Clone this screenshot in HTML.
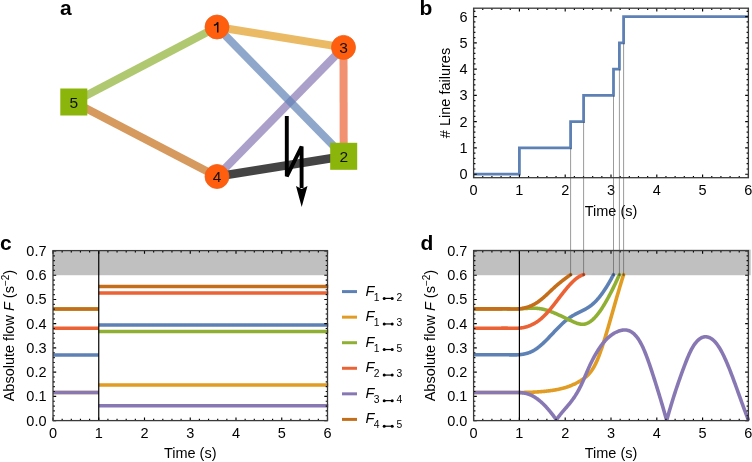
<!DOCTYPE html><html><head><meta charset="utf-8"><style>html,body{margin:0;padding:0;background:#fff;}svg{display:block;}</style></head><body>
<svg width="752" height="462" viewBox="0 0 752 462" font-family="Liberation Sans, sans-serif">
<rect width="752" height="462" fill="#fff"/>
<g opacity="0.999">
<g>
<line x1="217" y1="27" x2="73.8" y2="102" stroke="#8FB032" stroke-width="8" stroke-opacity="0.7"/>
<line x1="217" y1="176.5" x2="73.8" y2="102" stroke="#C56E1A" stroke-width="8" stroke-opacity="0.7"/>
<line x1="217" y1="27" x2="343.5" y2="47.4" stroke="#E19C24" stroke-width="8" stroke-opacity="0.7"/>
<line x1="343.5" y1="47.4" x2="217" y2="176.5" stroke="#8778B3" stroke-width="8" stroke-opacity="0.7"/>
<line x1="217" y1="27" x2="343.7" y2="156.3" stroke="#5E81B5" stroke-width="8" stroke-opacity="0.7"/>
<line x1="343.5" y1="47.4" x2="343.7" y2="156.3" stroke="#EB6235" stroke-width="8" stroke-opacity="0.7"/>
<line x1="217" y1="176.5" x2="343.7" y2="156.3" stroke="#444" stroke-width="8.5" stroke-opacity="1"/>
<circle cx="217" cy="27" r="12" fill="#FF5E0E" stroke="#F06018" stroke-width="0.8"/>
<path d="M217.75,32.6V22.3M217.75,22.1C217.3,24.1 215.9,25 213.9,25.2" stroke="#111" stroke-width="1.5" fill="none"/>
<circle cx="343.5" cy="47.4" r="12" fill="#FF5E0E" stroke="#F06018" stroke-width="0.8"/>
<text x="343.5" y="52.9" font-size="15.5" text-anchor="middle" fill="#111">3</text>
<circle cx="217" cy="176.5" r="12" fill="#FF5E0E" stroke="#F06018" stroke-width="0.8"/>
<text x="217" y="182" font-size="15.5" text-anchor="middle" fill="#111">4</text>
<rect x="60.3" y="88.5" width="27" height="27" fill="#8BB50A"/>
<text x="73.8" y="107.5" font-size="15.5" text-anchor="middle" fill="#111">5</text>
<rect x="330.2" y="142.8" width="27" height="27" fill="#8BB50A"/>
<text x="343.7" y="161.8" font-size="15.5" text-anchor="middle" fill="#111">2</text>
<path d="M286.8,116 L286.8,176.3 L301.6,146.6 L301.6,188" stroke="#000" stroke-width="3.9" fill="none" stroke-linejoin="miter" stroke-miterlimit="3"/>
<path d="M296,186 L301.7,189 L307.5,186 L301.7,207 Z" fill="#000"/>
</g>
<text x="60" y="15" font-size="21" font-weight="bold">a</text>
<text x="419.6" y="14.7" font-size="21" font-weight="bold">b</text>
<path d="M473.6,174.2H519.4V147.93H570.6V121.66H583.6V95.39H613.5V69.12H619.4V42.85H623.6V16.58H748.4" stroke="#5E81B5" stroke-width="2.8" fill="none"/>
<path d="M473.6,177.7v-3.2M473.6,8.2v3.2M519.4,177.7v-3.2M519.4,8.2v3.2M565.2,177.7v-3.2M565.2,8.2v3.2M611,177.7v-3.2M611,8.2v3.2M656.8,177.7v-3.2M656.8,8.2v3.2M702.6,177.7v-3.2M702.6,8.2v3.2M748.4,177.7v-3.2M748.4,8.2v3.2M482.76,177.7v-1.8M482.76,8.2v1.8M491.92,177.7v-1.8M491.92,8.2v1.8M501.08,177.7v-1.8M501.08,8.2v1.8M510.24,177.7v-1.8M510.24,8.2v1.8M528.56,177.7v-1.8M528.56,8.2v1.8M537.72,177.7v-1.8M537.72,8.2v1.8M546.88,177.7v-1.8M546.88,8.2v1.8M556.04,177.7v-1.8M556.04,8.2v1.8M574.36,177.7v-1.8M574.36,8.2v1.8M583.52,177.7v-1.8M583.52,8.2v1.8M592.68,177.7v-1.8M592.68,8.2v1.8M601.84,177.7v-1.8M601.84,8.2v1.8M620.16,177.7v-1.8M620.16,8.2v1.8M629.32,177.7v-1.8M629.32,8.2v1.8M638.48,177.7v-1.8M638.48,8.2v1.8M647.64,177.7v-1.8M647.64,8.2v1.8M665.96,177.7v-1.8M665.96,8.2v1.8M675.12,177.7v-1.8M675.12,8.2v1.8M684.28,177.7v-1.8M684.28,8.2v1.8M693.44,177.7v-1.8M693.44,8.2v1.8M711.76,177.7v-1.8M711.76,8.2v1.8M720.92,177.7v-1.8M720.92,8.2v1.8M730.08,177.7v-1.8M730.08,8.2v1.8M739.24,177.7v-1.8M739.24,8.2v1.8M473.6,174.2h3.2M748.4,174.2h-3.2M473.6,147.93h3.2M748.4,147.93h-3.2M473.6,121.66h3.2M748.4,121.66h-3.2M473.6,95.39h3.2M748.4,95.39h-3.2M473.6,69.12h3.2M748.4,69.12h-3.2M473.6,42.85h3.2M748.4,42.85h-3.2M473.6,16.58h3.2M748.4,16.58h-3.2M473.6,168.95h1.8M748.4,168.95h-1.8M473.6,163.69h1.8M748.4,163.69h-1.8M473.6,158.44h1.8M748.4,158.44h-1.8M473.6,153.18h1.8M748.4,153.18h-1.8M473.6,142.68h1.8M748.4,142.68h-1.8M473.6,137.42h1.8M748.4,137.42h-1.8M473.6,132.17h1.8M748.4,132.17h-1.8M473.6,126.91h1.8M748.4,126.91h-1.8M473.6,116.41h1.8M748.4,116.41h-1.8M473.6,111.15h1.8M748.4,111.15h-1.8M473.6,105.9h1.8M748.4,105.9h-1.8M473.6,100.64h1.8M748.4,100.64h-1.8M473.6,90.14h1.8M748.4,90.14h-1.8M473.6,84.88h1.8M748.4,84.88h-1.8M473.6,79.63h1.8M748.4,79.63h-1.8M473.6,74.37h1.8M748.4,74.37h-1.8M473.6,63.87h1.8M748.4,63.87h-1.8M473.6,58.61h1.8M748.4,58.61h-1.8M473.6,53.36h1.8M748.4,53.36h-1.8M473.6,48.1h1.8M748.4,48.1h-1.8M473.6,37.6h1.8M748.4,37.6h-1.8M473.6,32.34h1.8M748.4,32.34h-1.8M473.6,27.09h1.8M748.4,27.09h-1.8M473.6,21.83h1.8M748.4,21.83h-1.8M473.6,11.33h1.8M748.4,11.33h-1.8" stroke="#000" stroke-width="1.15" fill="none"/>
<rect x="473.6" y="8.2" width="274.8" height="169.5" fill="none" stroke="#3a3a3a" stroke-width="1.3"/>
<text x="473.6" y="195" font-size="14.5" text-anchor="middle">0</text>
<text x="467.5" y="179.2" font-size="14.5" text-anchor="end">0</text>
<text x="519.4" y="195" font-size="14.5" text-anchor="middle">1</text>
<text x="467.5" y="152.93" font-size="14.5" text-anchor="end">1</text>
<text x="565.2" y="195" font-size="14.5" text-anchor="middle">2</text>
<text x="467.5" y="126.66" font-size="14.5" text-anchor="end">2</text>
<text x="611" y="195" font-size="14.5" text-anchor="middle">3</text>
<text x="467.5" y="100.39" font-size="14.5" text-anchor="end">3</text>
<text x="656.8" y="195" font-size="14.5" text-anchor="middle">4</text>
<text x="467.5" y="74.12" font-size="14.5" text-anchor="end">4</text>
<text x="702.6" y="195" font-size="14.5" text-anchor="middle">5</text>
<text x="467.5" y="47.85" font-size="14.5" text-anchor="end">5</text>
<text x="748.4" y="195" font-size="14.5" text-anchor="middle">6</text>
<text x="467.5" y="21.58" font-size="14.5" text-anchor="end">6</text>
<text x="611" y="215.7" font-size="14.5" text-anchor="middle">Time (s)</text>
<text transform="translate(449.7,93) rotate(-90)" font-size="14.5" text-anchor="middle"># Line failures</text>
<text x="0" y="249.5" font-size="21" font-weight="bold">c</text>
<rect x="53" y="250.6" width="274.5" height="24.62" fill="#C0C0C0"/>
<path d="M53,309H98.75M98.75,331.6H328.3" stroke="#8FB032" stroke-width="3.5" fill="none"/>
<path d="M53,309H98.75M98.75,286.5H328.3" stroke="#C56E1A" stroke-width="3.5" fill="none"/>
<path d="M53,328.2H98.75M98.75,293H328.3" stroke="#EB6235" stroke-width="3.5" fill="none"/>
<path d="M53,354.9H98.75M98.75,324.9H328.3" stroke="#5E81B5" stroke-width="3.5" fill="none"/>
<path d="M53,392.5H98.75M98.75,385H328.3" stroke="#E19C24" stroke-width="3.5" fill="none"/>
<path d="M53,392.5H98.75M98.75,405.8H328.3" stroke="#8778B3" stroke-width="3.5" fill="none"/>
<line x1="98.75" y1="250.6" x2="98.75" y2="420.6" stroke="#000" stroke-width="1.2"/>
<path d="M53,420.6v-3.2M53,250.6v3.2M98.75,420.6v-3.2M98.75,250.6v3.2M144.5,420.6v-3.2M144.5,250.6v3.2M190.25,420.6v-3.2M190.25,250.6v3.2M236,420.6v-3.2M236,250.6v3.2M281.75,420.6v-3.2M281.75,250.6v3.2M327.5,420.6v-3.2M327.5,250.6v3.2M62.15,420.6v-1.8M62.15,250.6v1.8M71.3,420.6v-1.8M71.3,250.6v1.8M80.45,420.6v-1.8M80.45,250.6v1.8M89.6,420.6v-1.8M89.6,250.6v1.8M107.9,420.6v-1.8M107.9,250.6v1.8M117.05,420.6v-1.8M117.05,250.6v1.8M126.2,420.6v-1.8M126.2,250.6v1.8M135.35,420.6v-1.8M135.35,250.6v1.8M153.65,420.6v-1.8M153.65,250.6v1.8M162.8,420.6v-1.8M162.8,250.6v1.8M171.95,420.6v-1.8M171.95,250.6v1.8M181.1,420.6v-1.8M181.1,250.6v1.8M199.4,420.6v-1.8M199.4,250.6v1.8M208.55,420.6v-1.8M208.55,250.6v1.8M217.7,420.6v-1.8M217.7,250.6v1.8M226.85,420.6v-1.8M226.85,250.6v1.8M245.15,420.6v-1.8M245.15,250.6v1.8M254.3,420.6v-1.8M254.3,250.6v1.8M263.45,420.6v-1.8M263.45,250.6v1.8M272.6,420.6v-1.8M272.6,250.6v1.8M290.9,420.6v-1.8M290.9,250.6v1.8M300.05,420.6v-1.8M300.05,250.6v1.8M309.2,420.6v-1.8M309.2,250.6v1.8M318.35,420.6v-1.8M318.35,250.6v1.8M53,420.6h3.2M327.5,420.6h-3.2M53,396.37h3.2M327.5,396.37h-3.2M53,372.14h3.2M327.5,372.14h-3.2M53,347.91h3.2M327.5,347.91h-3.2M53,323.68h3.2M327.5,323.68h-3.2M53,299.45h3.2M327.5,299.45h-3.2M53,275.22h3.2M327.5,275.22h-3.2M53,250.99h3.2M327.5,250.99h-3.2M53,415.75h1.8M327.5,415.75h-1.8M53,410.91h1.8M327.5,410.91h-1.8M53,406.06h1.8M327.5,406.06h-1.8M53,401.22h1.8M327.5,401.22h-1.8M53,391.52h1.8M327.5,391.52h-1.8M53,386.68h1.8M327.5,386.68h-1.8M53,381.83h1.8M327.5,381.83h-1.8M53,376.99h1.8M327.5,376.99h-1.8M53,367.29h1.8M327.5,367.29h-1.8M53,362.45h1.8M327.5,362.45h-1.8M53,357.6h1.8M327.5,357.6h-1.8M53,352.76h1.8M327.5,352.76h-1.8M53,343.06h1.8M327.5,343.06h-1.8M53,338.22h1.8M327.5,338.22h-1.8M53,333.37h1.8M327.5,333.37h-1.8M53,328.53h1.8M327.5,328.53h-1.8M53,318.83h1.8M327.5,318.83h-1.8M53,313.99h1.8M327.5,313.99h-1.8M53,309.14h1.8M327.5,309.14h-1.8M53,304.3h1.8M327.5,304.3h-1.8M53,294.6h1.8M327.5,294.6h-1.8M53,289.76h1.8M327.5,289.76h-1.8M53,284.91h1.8M327.5,284.91h-1.8M53,280.07h1.8M327.5,280.07h-1.8M53,270.37h1.8M327.5,270.37h-1.8M53,265.53h1.8M327.5,265.53h-1.8M53,260.68h1.8M327.5,260.68h-1.8M53,255.84h1.8M327.5,255.84h-1.8" stroke="#000" stroke-width="1.15" fill="none"/>
<rect x="53" y="250.6" width="274.5" height="170" fill="none" stroke="#3a3a3a" stroke-width="1.3"/>
<text x="53" y="437.6" font-size="14.5" text-anchor="middle">0</text>
<text x="98.75" y="437.6" font-size="14.5" text-anchor="middle">1</text>
<text x="144.5" y="437.6" font-size="14.5" text-anchor="middle">2</text>
<text x="190.25" y="437.6" font-size="14.5" text-anchor="middle">3</text>
<text x="236" y="437.6" font-size="14.5" text-anchor="middle">4</text>
<text x="281.75" y="437.6" font-size="14.5" text-anchor="middle">5</text>
<text x="327.5" y="437.6" font-size="14.5" text-anchor="middle">6</text>
<text x="46.5" y="425.6" font-size="14.5" text-anchor="end">0.0</text>
<text x="46.5" y="401.37" font-size="14.5" text-anchor="end">0.1</text>
<text x="46.5" y="377.14" font-size="14.5" text-anchor="end">0.2</text>
<text x="46.5" y="352.91" font-size="14.5" text-anchor="end">0.3</text>
<text x="46.5" y="328.68" font-size="14.5" text-anchor="end">0.4</text>
<text x="46.5" y="304.45" font-size="14.5" text-anchor="end">0.5</text>
<text x="46.5" y="280.22" font-size="14.5" text-anchor="end">0.6</text>
<text x="46.5" y="255.99" font-size="14.5" text-anchor="end">0.7</text>
<text x="190.2" y="458" font-size="14.5" text-anchor="middle">Time (s)</text>
<text transform="translate(14,335.6) rotate(-90)" font-size="14.5" text-anchor="middle">Absolute flow <tspan font-style="italic">F</tspan> (s<tspan font-size="10" dy="-5">−2</tspan><tspan dy="5">)</tspan></text>
<line x1="342" y1="291.6" x2="357" y2="291.6" stroke="#5E81B5" stroke-width="3"/>
<text x="365.5" y="295.6" font-size="14.5" font-style="italic">F</text>
<text x="373.8" y="300.5" font-size="10.3">1</text>
<path d="M384.2,298.4H392.2" stroke="#000" stroke-width="1.2"/><circle cx="384.2" cy="298.4" r="1.5"/><circle cx="392.2" cy="298.4" r="1.5"/>
<text x="396.6" y="300.5" font-size="10.3">2</text>
<line x1="342" y1="317.16" x2="357" y2="317.16" stroke="#E19C24" stroke-width="3"/>
<text x="365.5" y="321.16" font-size="14.5" font-style="italic">F</text>
<text x="373.8" y="326.06" font-size="10.3">1</text>
<path d="M384.2,323.96H392.2" stroke="#000" stroke-width="1.2"/><circle cx="384.2" cy="323.96" r="1.5"/><circle cx="392.2" cy="323.96" r="1.5"/>
<text x="396.6" y="326.06" font-size="10.3">3</text>
<line x1="342" y1="342.72" x2="357" y2="342.72" stroke="#8FB032" stroke-width="3"/>
<text x="365.5" y="346.72" font-size="14.5" font-style="italic">F</text>
<text x="373.8" y="351.62" font-size="10.3">1</text>
<path d="M384.2,349.52H392.2" stroke="#000" stroke-width="1.2"/><circle cx="384.2" cy="349.52" r="1.5"/><circle cx="392.2" cy="349.52" r="1.5"/>
<text x="396.6" y="351.62" font-size="10.3">5</text>
<line x1="342" y1="368.28" x2="357" y2="368.28" stroke="#EB6235" stroke-width="3"/>
<text x="365.5" y="372.28" font-size="14.5" font-style="italic">F</text>
<text x="373.8" y="377.18" font-size="10.3">2</text>
<path d="M384.2,375.08H392.2" stroke="#000" stroke-width="1.2"/><circle cx="384.2" cy="375.08" r="1.5"/><circle cx="392.2" cy="375.08" r="1.5"/>
<text x="396.6" y="377.18" font-size="10.3">3</text>
<line x1="342" y1="393.84" x2="357" y2="393.84" stroke="#8778B3" stroke-width="3"/>
<text x="365.5" y="397.84" font-size="14.5" font-style="italic">F</text>
<text x="373.8" y="402.74" font-size="10.3">3</text>
<path d="M384.2,400.64H392.2" stroke="#000" stroke-width="1.2"/><circle cx="384.2" cy="400.64" r="1.5"/><circle cx="392.2" cy="400.64" r="1.5"/>
<text x="396.6" y="402.74" font-size="10.3">4</text>
<line x1="342" y1="419.4" x2="357" y2="419.4" stroke="#C56E1A" stroke-width="3"/>
<text x="365.5" y="423.4" font-size="14.5" font-style="italic">F</text>
<text x="373.8" y="428.3" font-size="10.3">4</text>
<path d="M384.2,426.2H392.2" stroke="#000" stroke-width="1.2"/><circle cx="384.2" cy="426.2" r="1.5"/><circle cx="392.2" cy="426.2" r="1.5"/>
<text x="396.6" y="428.3" font-size="10.3">5</text>
<text x="420.5" y="249.5" font-size="21" font-weight="bold">d</text>
<rect x="473.6" y="249.6" width="277.1" height="25.62" fill="#C0C0C0"/>
<path d="M473.6,354.8H500L500,354.8L500.5,354.79L501,354.77L501.5,354.76L502,354.75L502.5,354.74L503,354.73L503.5,354.73L504,354.73L504.5,354.73L505,354.74L505.5,354.74L506,354.75L506.5,354.76L507,354.77L507.5,354.78L508,354.79L508.5,354.8L509,354.82L509.5,354.83L510,354.84L510.5,354.85L511,354.86L511.5,354.87L512,354.88L512.5,354.88L513,354.89L513.5,354.89L514,354.89L514.5,354.89L515,354.88L515.5,354.87L516,354.86L516.5,354.85L517,354.83L517.5,354.81L518,354.78L518.5,354.75L519,354.71L519.5,354.67L520,354.63L520.5,354.57L521,354.52L521.5,354.46L522,354.39L522.5,354.31L523,354.23L523.5,354.14L524,354.05L524.5,353.94L525,353.83L525.5,353.72L526,353.59L526.5,353.46L527,353.31L527.5,353.16L528,353L528.5,352.83L529,352.65L529.5,352.47L530,352.27L530.5,352.06L531,351.84L531.5,351.61L532,351.37L532.5,351.12L533,350.86L533.5,350.58L534,350.3L534.5,350L535,349.69L535.5,349.37L536,349.03L536.5,348.69L537,348.33L537.5,347.96L538,347.59L538.5,347.2L539,346.8L539.5,346.4L540,345.98L540.5,345.56L541,345.13L541.5,344.69L542,344.24L542.5,343.79L543,343.33L543.5,342.86L544,342.39L544.5,341.91L545,341.42L545.5,340.93L546,340.43L546.5,339.93L547,339.43L547.5,338.92L548,338.41L548.5,337.89L549,337.38L549.5,336.86L550,336.33L550.5,335.81L551,335.28L551.5,334.75L552,334.22L552.5,333.69L553,333.17L553.5,332.64L554,332.11L554.5,331.58L555,331.05L555.5,330.53L556,330L556.5,329.48L557,328.96L557.5,328.44L558,327.93L558.5,327.42L559,326.91L559.5,326.41L560,325.91L560.5,325.42L561,324.93L561.5,324.45L562,323.97L562.5,323.5L563,323.04L563.5,322.58L564,322.13L564.5,321.69L565,321.25L565.5,320.82L566,320.4L566.5,319.99L567,319.59L567.5,319.2L568,318.82L568.5,318.45L569,318.09L569.5,317.74L570,317.4L570.5,317.07L571,316.74L571.5,316.43L572,316.13L572.5,315.83L573,315.54L573.5,315.26L574,314.98L574.5,314.71L575,314.44L575.5,314.18L576,313.92L576.5,313.67L577,313.42L577.5,313.17L578,312.92L578.5,312.67L579,312.43L579.5,312.18L580,311.94L580.5,311.69L581,311.45L581.5,311.2L582,310.95L582.5,310.7L583,310.44L583.5,310.18L584,309.91L584.5,309.64L585,309.37L585.5,309.09L586,308.8L586.5,308.51L587,308.21L587.5,307.9L588,307.58L588.5,307.25L589,306.91L589.5,306.57L590,306.21L590.5,305.84L591,305.46L591.5,305.07L592,304.66L592.5,304.25L593,303.81L593.5,303.37L594,302.91L594.5,302.43L595,301.94L595.5,301.44L596,300.92L596.5,300.39L597,299.85L597.5,299.29L598,298.71L598.5,298.13L599,297.52L599.5,296.91L600,296.28L600.5,295.64L601,294.99L601.5,294.32L602,293.64L602.5,292.95L603,292.24L603.5,291.52L604,290.79L604.5,290.04L605,289.29L605.5,288.52L606,287.74L606.5,286.94L607,286.14L607.5,285.32L608,284.49L608.5,283.64L609,282.79L609.5,281.92L610,281.05L610.5,280.16L611,279.26L611.5,278.34L612,277.42L612.5,276.49L613,275.54L613.5,274.6" clip-path="url(#cd)" stroke="#5E81B5" stroke-width="3.6" fill="none" stroke-linecap="round" stroke-linejoin="round"/>
<path d="M473.6,392.5H500L500,392.5L500.5,392.49L501,392.49L501.5,392.49L502,392.49L502.5,392.49L503,392.49L503.5,392.49L504,392.5L504.5,392.5L505,392.5L505.5,392.5L506,392.5L506.5,392.5L507,392.5L507.5,392.5L508,392.5L508.5,392.51L509,392.51L509.5,392.51L510,392.51L510.5,392.51L511,392.51L511.5,392.51L512,392.51L512.5,392.51L513,392.51L513.5,392.51L514,392.51L514.5,392.51L515,392.51L515.5,392.51L516,392.51L516.5,392.51L517,392.5L517.5,392.5L518,392.5L518.5,392.5L519,392.49L519.5,392.49L520,392.48L520.5,392.48L521,392.47L521.5,392.47L522,392.46L522.5,392.46L523,392.45L523.5,392.44L524,392.43L524.5,392.42L525,392.41L525.5,392.4L526,392.39L526.5,392.38L527,392.37L527.5,392.35L528,392.34L528.5,392.32L529,392.31L529.5,392.29L530,392.28L530.5,392.26L531,392.24L531.5,392.22L532,392.2L532.5,392.18L533,392.16L533.5,392.13L534,392.11L534.5,392.08L535,392.06L535.5,392.03L536,392L536.5,391.97L537,391.94L537.5,391.91L538,391.88L538.5,391.84L539,391.81L539.5,391.77L540,391.74L540.5,391.7L541,391.66L541.5,391.62L542,391.57L542.5,391.53L543,391.49L543.5,391.44L544,391.39L544.5,391.34L545,391.29L545.5,391.24L546,391.19L546.5,391.14L547,391.08L547.5,391.02L548,390.96L548.5,390.9L549,390.84L549.5,390.78L550,390.72L550.5,390.65L551,390.58L551.5,390.51L552,390.44L552.5,390.37L553,390.29L553.5,390.21L554,390.13L554.5,390.05L555,389.97L555.5,389.88L556,389.79L556.5,389.7L557,389.6L557.5,389.51L558,389.41L558.5,389.3L559,389.2L559.5,389.09L560,388.98L560.5,388.86L561,388.74L561.5,388.62L562,388.5L562.5,388.37L563,388.23L563.5,388.1L564,387.96L564.5,387.82L565,387.67L565.5,387.52L566,387.36L566.5,387.2L567,387.04L567.5,386.87L568,386.7L568.5,386.52L569,386.34L569.5,386.15L570,385.96L570.5,385.76L571,385.56L571.5,385.36L572,385.15L572.5,384.93L573,384.71L573.5,384.48L574,384.25L574.5,384.02L575,383.77L575.5,383.53L576,383.27L576.5,383.01L577,382.75L577.5,382.48L578,382.2L578.5,381.92L579,381.63L579.5,381.33L580,381.03L580.5,380.73L581,380.41L581.5,380.09L582,379.76L582.5,379.43L583,379.09L583.5,378.73L584,378.37L584.5,378L585,377.61L585.5,377.2L586,376.78L586.5,376.35L587,375.89L587.5,375.41L588,374.91L588.5,374.39L589,373.84L589.5,373.27L590,372.67L590.5,372.05L591,371.39L591.5,370.7L592,369.98L592.5,369.22L593,368.43L593.5,367.61L594,366.74L594.5,365.84L595,364.9L595.5,363.91L596,362.88L596.5,361.81L597,360.69L597.5,359.53L598,358.32L598.5,357.07L599,355.79L599.5,354.46L600,353.1L600.5,351.71L601,350.28L601.5,348.82L602,347.34L602.5,345.82L603,344.28L603.5,342.72L604,341.14L604.5,339.53L605,337.91L605.5,336.27L606,334.62L606.5,332.95L607,331.27L607.5,329.58L608,327.89L608.5,326.18L609,324.46L609.5,322.74L610,321.01L610.5,319.28L611,317.54L611.5,315.8L612,314.05L612.5,312.3L613,310.55L613.5,308.8L614,307.05L614.5,305.3L615,303.55L615.5,301.81L616,300.07L616.5,298.33L617,296.6L617.5,294.87L618,293.15L618.5,291.44L619,289.74L619.5,288.04L620,286.36L620.5,284.69L621,283.03L621.5,281.38L622,279.74L622.5,278.12L623,276.51L623.5,274.92L623.6,274.6" clip-path="url(#cd)" stroke="#E19C24" stroke-width="3.6" fill="none" stroke-linecap="round" stroke-linejoin="round"/>
<path d="M473.6,308.9H500L500,308.9L500.5,308.9L501,308.88L501.5,308.87L502,308.86L502.5,308.85L503,308.85L503.5,308.84L504,308.84L504.5,308.84L505,308.84L505.5,308.85L506,308.85L506.5,308.86L507,308.87L507.5,308.87L508,308.88L508.5,308.89L509,308.9L509.5,308.91L510,308.92L510.5,308.93L511,308.93L511.5,308.94L512,308.95L512.5,308.95L513,308.96L513.5,308.96L514,308.96L514.5,308.96L515,308.96L515.5,308.95L516,308.95L516.5,308.94L517,308.93L517.5,308.91L518,308.89L518.5,308.87L519,308.85L519.5,308.83L520,308.8L520.5,308.77L521,308.74L521.5,308.71L522,308.68L522.5,308.65L523,308.62L523.5,308.59L524,308.55L524.5,308.52L525,308.49L525.5,308.45L526,308.42L526.5,308.39L527,308.36L527.5,308.34L528,308.31L528.5,308.28L529,308.26L529.5,308.24L530,308.22L530.5,308.21L531,308.19L531.5,308.18L532,308.18L532.5,308.17L533,308.18L533.5,308.18L534,308.19L534.5,308.2L535,308.22L535.5,308.24L536,308.27L536.5,308.3L537,308.34L537.5,308.38L538,308.43L538.5,308.48L539,308.54L539.5,308.61L540,308.68L540.5,308.76L541,308.85L541.5,308.94L542,309.04L542.5,309.14L543,309.25L543.5,309.37L544,309.49L544.5,309.61L545,309.74L545.5,309.88L546,310.02L546.5,310.17L547,310.32L547.5,310.47L548,310.63L548.5,310.8L549,310.97L549.5,311.14L550,311.32L550.5,311.5L551,311.68L551.5,311.87L552,312.06L552.5,312.25L553,312.45L553.5,312.65L554,312.86L554.5,313.06L555,313.27L555.5,313.49L556,313.7L556.5,313.92L557,314.14L557.5,314.36L558,314.58L558.5,314.81L559,315.04L559.5,315.27L560,315.5L560.5,315.73L561,315.96L561.5,316.2L562,316.43L562.5,316.67L563,316.91L563.5,317.14L564,317.38L564.5,317.62L565,317.86L565.5,318.1L566,318.34L566.5,318.58L567,318.82L567.5,319.06L568,319.3L568.5,319.54L569,319.77L569.5,320.01L570,320.24L570.5,320.48L571,320.71L571.5,320.95L572,321.18L572.5,321.41L573,321.63L573.5,321.86L574,322.08L574.5,322.29L575,322.5L575.5,322.7L576,322.89L576.5,323.08L577,323.26L577.5,323.42L578,323.57L578.5,323.72L579,323.84L579.5,323.96L580,324.06L580.5,324.14L581,324.21L581.5,324.25L582,324.28L582.5,324.29L583,324.28L583.5,324.25L584,324.2L584.5,324.12L585,324.02L585.5,323.89L586,323.74L586.5,323.57L587,323.38L587.5,323.16L588,322.93L588.5,322.67L589,322.38L589.5,322.08L590,321.76L590.5,321.41L591,321.04L591.5,320.66L592,320.25L592.5,319.82L593,319.37L593.5,318.9L594,318.42L594.5,317.91L595,317.38L595.5,316.84L596,316.28L596.5,315.69L597,315.09L597.5,314.47L598,313.84L598.5,313.19L599,312.52L599.5,311.83L600,311.13L600.5,310.41L601,309.68L601.5,308.93L602,308.17L602.5,307.39L603,306.6L603.5,305.79L604,304.98L604.5,304.15L605,303.3L605.5,302.45L606,301.58L606.5,300.7L607,299.81L607.5,298.91L608,297.99L608.5,297.07L609,296.14L609.5,295.2L610,294.25L610.5,293.29L611,292.32L611.5,291.34L612,290.35L612.5,289.35L613,288.34L613.5,287.33L614,286.3L614.5,285.26L615,284.22L615.5,283.16L616,282.1L616.5,281.02L617,279.94L617.5,278.85L618,277.74L618.5,276.63L619,275.51L619.4,274.6" clip-path="url(#cd)" stroke="#8FB032" stroke-width="3.6" fill="none" stroke-linecap="round" stroke-linejoin="round"/>
<path d="M473.6,328.2H500L500,328.2L500.5,328.2L501,328.19L501.5,328.17L502,328.16L502.5,328.16L503,328.15L503.5,328.15L504,328.15L504.5,328.15L505,328.15L505.5,328.15L506,328.15L506.5,328.16L507,328.16L507.5,328.17L508,328.18L508.5,328.19L509,328.19L509.5,328.2L510,328.21L510.5,328.22L511,328.23L511.5,328.23L512,328.24L512.5,328.25L513,328.25L513.5,328.26L514,328.26L514.5,328.26L515,328.27L515.5,328.26L516,328.26L516.5,328.25L517,328.24L517.5,328.23L518,328.21L518.5,328.18L519,328.15L519.5,328.11L520,328.07L520.5,328.02L521,327.96L521.5,327.89L522,327.82L522.5,327.74L523,327.65L523.5,327.55L524,327.45L524.5,327.34L525,327.22L525.5,327.09L526,326.96L526.5,326.82L527,326.67L527.5,326.51L528,326.34L528.5,326.16L529,325.98L529.5,325.79L530,325.59L530.5,325.38L531,325.16L531.5,324.93L532,324.69L532.5,324.44L533,324.19L533.5,323.92L534,323.65L534.5,323.37L535,323.07L535.5,322.77L536,322.46L536.5,322.13L537,321.8L537.5,321.46L538,321.11L538.5,320.74L539,320.37L539.5,319.98L540,319.59L540.5,319.19L541,318.77L541.5,318.34L542,317.91L542.5,317.46L543,317L543.5,316.53L544,316.05L544.5,315.55L545,315.05L545.5,314.53L546,314.01L546.5,313.47L547,312.93L547.5,312.38L548,311.81L548.5,311.24L549,310.66L549.5,310.08L550,309.48L550.5,308.88L551,308.28L551.5,307.67L552,307.05L552.5,306.43L553,305.8L553.5,305.17L554,304.53L554.5,303.89L555,303.25L555.5,302.61L556,301.96L556.5,301.31L557,300.66L557.5,300.01L558,299.36L558.5,298.7L559,298.05L559.5,297.4L560,296.75L560.5,296.1L561,295.45L561.5,294.81L562,294.16L562.5,293.52L563,292.89L563.5,292.25L564,291.62L564.5,291L565,290.38L565.5,289.77L566,289.16L566.5,288.56L567,287.96L567.5,287.37L568,286.79L568.5,286.22L569,285.65L569.5,285.1L570,284.55L570.5,284.01L571,283.48L571.5,282.96L572,282.46L572.5,281.96L573,281.47L573.5,281L574,280.54L574.5,280.09L575,279.65L575.5,279.23L576,278.82L576.5,278.43L577,278.05L577.5,277.68L578,277.34L578.5,277L579,276.68L579.5,276.38L580,276.1L580.5,275.83L581,275.59L581.5,275.36L582,275.14L582.5,274.95L583,274.78L583.5,274.62L583.6,274.6" clip-path="url(#cd)" stroke="#EB6235" stroke-width="3.6" fill="none" stroke-linecap="round" stroke-linejoin="round"/>
<clipPath id="cd"><rect x="473.6" y="250.6" width="277.8" height="170"/></clipPath>
<path d="M473.6,392.5H500L500,392.5L500.5,392.5L501,392.51L501.5,392.53L502,392.54L502.5,392.54L503,392.55L503.5,392.55L504,392.55L504.5,392.55L505,392.55L505.5,392.55L506,392.54L506.5,392.54L507,392.53L507.5,392.52L508,392.52L508.5,392.51L509,392.5L509.5,392.49L510,392.48L510.5,392.48L511,392.47L511.5,392.46L512,392.46L512.5,392.45L513,392.45L513.5,392.45L514,392.44L514.5,392.44L515,392.45L515.5,392.45L516,392.46L516.5,392.46L517,392.48L517.5,392.49L518,392.5L518.5,392.52L519,392.55L519.5,392.57L520,392.61L520.5,392.64L521,392.68L521.5,392.73L522,392.78L522.5,392.84L523,392.91L523.5,392.98L524,393.06L524.5,393.15L525,393.24L525.5,393.35L526,393.46L526.5,393.58L527,393.72L527.5,393.86L528,394.01L528.5,394.17L529,394.35L529.5,394.53L530,394.73L530.5,394.94L531,395.16L531.5,395.4L532,395.64L532.5,395.9L533,396.17L533.5,396.44L534,396.74L534.5,397.04L535,397.35L535.5,397.67L536,398.01L536.5,398.35L537,398.71L537.5,399.07L538,399.45L538.5,399.84L539,400.24L539.5,400.65L540,401.06L540.5,401.49L541,401.93L541.5,402.38L542,402.84L542.5,403.3L543,403.78L543.5,404.27L544,404.77L544.5,405.27L545,405.79L545.5,406.31L546,406.84L546.5,407.39L547,407.94L547.5,408.5L548,409.07L548.5,409.64L549,410.23L549.5,410.82L550,411.43L550.5,412.04L551,412.66L551.5,413.29L552,413.92L552.5,414.57L553,415.22L553.5,415.88L554,416.54L554.5,417.22L555,417.9L555.5,418.59L556,419.28L556.5,420L556.5,419.6L557,418.88L557.5,418.18L558,417.49L558.5,416.82L559,416.16L559.5,415.52L560,414.88L560.5,414.25L561,413.64L561.5,413.03L562,412.43L562.5,411.84L563,411.25L563.5,410.67L564,410.09L564.5,409.51L565,408.93L565.5,408.36L566,407.78L566.5,407.2L567,406.62L567.5,406.03L568,405.44L568.5,404.85L569,404.25L569.5,403.64L570,403.02L570.5,402.39L571,401.75L571.5,401.1L572,400.44L572.5,399.76L573,399.06L573.5,398.36L574,397.63L574.5,396.89L575,396.13L575.5,395.35L576,394.56L576.5,393.74L577,392.91L577.5,392.05L578,391.17L578.5,390.27L579,389.35L579.5,388.41L580,387.44L580.5,386.45L581,385.43L581.5,384.39L582,383.32L582.5,382.23L583,381.11L583.5,379.98L584,378.83L584.5,377.66L585,376.49L585.5,375.32L586,374.14L586.5,372.97L587,371.8L587.5,370.64L588,369.5L588.5,368.37L589,367.27L589.5,366.17L590,365.1L590.5,364.04L591,363.01L591.5,361.98L592,360.98L592.5,359.99L593,359.02L593.5,358.07L594,357.14L594.5,356.22L595,355.32L595.5,354.44L596,353.57L596.5,352.72L597,351.89L597.5,351.08L598,350.28L598.5,349.5L599,348.74L599.5,347.99L600,347.26L600.5,346.55L601,345.85L601.5,345.17L602,344.51L602.5,343.86L603,343.24L603.5,342.62L604,342.03L604.5,341.45L605,340.89L605.5,340.34L606,339.81L606.5,339.3L607,338.8L607.5,338.31L608,337.84L608.5,337.39L609,336.95L609.5,336.53L610,336.12L610.5,335.72L611,335.34L611.5,334.97L612,334.62L612.5,334.27L613,333.95L613.5,333.63L614,333.33L614.5,333.04L615,332.76L615.5,332.5L616,332.25L616.5,332.01L617,331.78L617.5,331.56L618,331.36L618.5,331.17L619,330.98L619.5,330.81L620,330.66L620.5,330.52L621,330.39L621.5,330.27L622,330.17L622.5,330.09L623,330.03L623.5,329.98L624,329.95L624.5,329.93L625,329.94L625.5,329.96L626,330.01L626.5,330.08L627,330.16L627.5,330.27L628,330.4L628.5,330.56L629,330.73L629.5,330.93L630,331.16L630.5,331.41L631,331.69L631.5,331.99L632,332.32L632.5,332.68L633,333.07L633.5,333.48L634,333.93L634.5,334.4L635,334.91L635.5,335.44L636,336.01L636.5,336.61L637,337.24L637.5,337.91L638,338.6L638.5,339.34L639,340.11L639.5,340.91L640,341.75L640.5,342.63L641,343.55L641.5,344.5L642,345.49L642.5,346.52L643,347.59L643.5,348.7L644,349.85L644.5,351.03L645,352.24L645.5,353.48L646,354.76L646.5,356.06L647,357.4L647.5,358.75L648,360.14L648.5,361.54L649,362.97L649.5,364.42L650,365.88L650.5,367.37L651,368.86L651.5,370.38L652,371.9L652.5,373.44L653,374.99L653.5,376.54L654,378.1L654.5,379.67L655,381.25L655.5,382.83L656,384.42L656.5,386.02L657,387.63L657.5,389.24L658,390.86L658.5,392.49L659,394.13L659.5,395.77L660,397.43L660.5,399.09L661,400.76L661.5,402.44L662,404.12L662.5,405.82L663,407.52L663.5,409.23L664,410.95L664.5,412.68L665,414.42L665.5,416.17L666,417.93L666.5,419.69L666.7,420.4L666.7,420.4L667.2,418.59L667.7,416.81L668.2,415.04L668.7,413.29L669.2,411.56L669.7,409.85L670.2,408.15L670.7,406.47L671.2,404.81L671.7,403.16L672.2,401.53L672.7,399.92L673.2,398.32L673.7,396.73L674.2,395.16L674.7,393.61L675.2,392.07L675.7,390.54L676.2,389.03L676.7,387.53L677.2,386.05L677.7,384.57L678.2,383.11L678.7,381.66L679.2,380.23L679.7,378.8L680.2,377.39L680.7,375.98L681.2,374.59L681.7,373.21L682.2,371.84L682.7,370.47L683.2,369.12L683.7,367.78L684.2,366.44L684.7,365.12L685.2,363.81L685.7,362.52L686.2,361.24L686.7,359.98L687.2,358.74L687.7,357.53L688.2,356.35L688.7,355.19L689.2,354.07L689.7,352.97L690.2,351.92L690.7,350.89L691.2,349.91L691.7,348.97L692.2,348.07L692.7,347.2L693.2,346.38L693.7,345.59L694.2,344.84L694.7,344.12L695.2,343.44L695.7,342.8L696.2,342.19L696.7,341.62L697.2,341.08L697.7,340.57L698.2,340.1L698.7,339.66L699.2,339.25L699.7,338.87L700.2,338.53L700.7,338.22L701.2,337.94L701.7,337.69L702.2,337.47L702.7,337.28L703.2,337.12L703.7,337L704.2,336.9L704.7,336.83L705.2,336.79L705.7,336.79L706.2,336.81L706.7,336.85L707.2,336.93L707.7,337.04L708.2,337.17L708.7,337.33L709.2,337.52L709.7,337.74L710.2,337.99L710.7,338.26L711.2,338.57L711.7,338.9L712.2,339.27L712.7,339.66L713.2,340.08L713.7,340.53L714.2,341.01L714.7,341.52L715.2,342.06L715.7,342.63L716.2,343.23L716.7,343.86L717.2,344.52L717.7,345.21L718.2,345.93L718.7,346.68L719.2,347.46L719.7,348.27L720.2,349.12L720.7,349.99L721.2,350.88L721.7,351.81L722.2,352.76L722.7,353.74L723.2,354.74L723.7,355.77L724.2,356.82L724.7,357.89L725.2,358.98L725.7,360.1L726.2,361.23L726.7,362.39L727.2,363.56L727.7,364.75L728.2,365.96L728.7,367.18L729.2,368.43L729.7,369.68L730.2,370.95L730.7,372.23L731.2,373.53L731.7,374.83L732.2,376.15L732.7,377.48L733.2,378.82L733.7,380.16L734.2,381.52L734.7,382.88L735.2,384.24L735.7,385.62L736.2,387L736.7,388.38L737.2,389.76L737.7,391.15L738.2,392.54L738.7,393.93L739.2,395.32L739.7,396.71L740.2,398.1L740.7,399.48L741.2,400.87L741.7,402.25L742.2,403.62L742.7,404.99L743.2,406.36L743.7,407.72L744.2,409.07L744.7,410.41L745.2,411.74L745.7,413.06L746.2,414.38L746.7,415.68L747.2,416.96L747.7,418.24L748.2,419.5" clip-path="url(#cd)" stroke="#8778B3" stroke-width="3.6" fill="none" stroke-linecap="round" stroke-linejoin="miter" stroke-miterlimit="10"/>
<path d="M473.6,308.9H500L500,308.9L500.5,308.9L501,308.87L501.5,308.85L502,308.83L502.5,308.81L503,308.8L503.5,308.8L504,308.79L504.5,308.79L505,308.8L505.5,308.8L506,308.81L506.5,308.82L507,308.83L507.5,308.85L508,308.86L508.5,308.87L509,308.89L509.5,308.91L510,308.92L510.5,308.94L511,308.95L511.5,308.97L512,308.98L512.5,308.99L513,309L513.5,309L514,309.01L514.5,309.01L515,309L515.5,309L516,308.99L516.5,308.97L517,308.95L517.5,308.93L518,308.9L518.5,308.87L519,308.83L519.5,308.78L520,308.73L520.5,308.67L521,308.6L521.5,308.53L522,308.45L522.5,308.37L523,308.28L523.5,308.18L524,308.07L524.5,307.96L525,307.84L525.5,307.71L526,307.57L526.5,307.43L527,307.28L527.5,307.12L528,306.96L528.5,306.79L529,306.6L529.5,306.42L530,306.22L530.5,306.01L531,305.8L531.5,305.58L532,305.35L532.5,305.11L533,304.86L533.5,304.6L534,304.34L534.5,304.06L535,303.78L535.5,303.49L536,303.19L536.5,302.87L537,302.55L537.5,302.23L538,301.89L538.5,301.54L539,301.18L539.5,300.81L540,300.43L540.5,300.05L541,299.65L541.5,299.25L542,298.84L542.5,298.42L543,297.99L543.5,297.56L544,297.12L544.5,296.68L545,296.23L545.5,295.77L546,295.32L546.5,294.86L547,294.39L547.5,293.92L548,293.45L548.5,292.98L549,292.51L549.5,292.04L550,291.56L550.5,291.09L551,290.62L551.5,290.15L552,289.68L552.5,289.21L553,288.74L553.5,288.28L554,287.82L554.5,287.36L555,286.91L555.5,286.46L556,286.02L556.5,285.58L557,285.15L557.5,284.72L558,284.3L558.5,283.88L559,283.47L559.5,283.06L560,282.65L560.5,282.25L561,281.85L561.5,281.45L562,281.06L562.5,280.67L563,280.29L563.5,279.9L564,279.52L564.5,279.14L565,278.76L565.5,278.39L566,278.01L566.5,277.64L567,277.27L567.5,276.89L568,276.52L568.5,276.15L569,275.79L569.5,275.42L570,275.05L570.5,274.68L570.6,274.6" clip-path="url(#cd)" stroke="#C56E1A" stroke-width="3.6" fill="none" stroke-linecap="round" stroke-linejoin="round"/>
<circle cx="570.6" cy="274.8" r="1.4" fill="#000" fill-opacity="0.3"/>
<circle cx="583.6" cy="274.8" r="1.4" fill="#000" fill-opacity="0.3"/>
<circle cx="613.5" cy="274.8" r="1.4" fill="#000" fill-opacity="0.3"/>
<circle cx="619.4" cy="274.8" r="1.4" fill="#000" fill-opacity="0.3"/>
<circle cx="623.6" cy="274.8" r="1.4" fill="#000" fill-opacity="0.3"/>
<circle cx="747.6" cy="418.6" r="1.4" fill="#000" fill-opacity="0.3"/>
<line x1="519.4" y1="250.6" x2="519.4" y2="420.6" stroke="#000" stroke-width="1.2"/>
<path d="M473.6,420.6v-3.2M473.6,250.6v3.2M519.4,420.6v-3.2M519.4,250.6v3.2M565.2,420.6v-3.2M565.2,250.6v3.2M611,420.6v-3.2M611,250.6v3.2M656.8,420.6v-3.2M656.8,250.6v3.2M702.6,420.6v-3.2M702.6,250.6v3.2M748.4,420.6v-3.2M748.4,250.6v3.2M482.76,420.6v-1.8M482.76,250.6v1.8M491.92,420.6v-1.8M491.92,250.6v1.8M501.08,420.6v-1.8M501.08,250.6v1.8M510.24,420.6v-1.8M510.24,250.6v1.8M528.56,420.6v-1.8M528.56,250.6v1.8M537.72,420.6v-1.8M537.72,250.6v1.8M546.88,420.6v-1.8M546.88,250.6v1.8M556.04,420.6v-1.8M556.04,250.6v1.8M574.36,420.6v-1.8M574.36,250.6v1.8M583.52,420.6v-1.8M583.52,250.6v1.8M592.68,420.6v-1.8M592.68,250.6v1.8M601.84,420.6v-1.8M601.84,250.6v1.8M620.16,420.6v-1.8M620.16,250.6v1.8M629.32,420.6v-1.8M629.32,250.6v1.8M638.48,420.6v-1.8M638.48,250.6v1.8M647.64,420.6v-1.8M647.64,250.6v1.8M665.96,420.6v-1.8M665.96,250.6v1.8M675.12,420.6v-1.8M675.12,250.6v1.8M684.28,420.6v-1.8M684.28,250.6v1.8M693.44,420.6v-1.8M693.44,250.6v1.8M711.76,420.6v-1.8M711.76,250.6v1.8M720.92,420.6v-1.8M720.92,250.6v1.8M730.08,420.6v-1.8M730.08,250.6v1.8M739.24,420.6v-1.8M739.24,250.6v1.8M473.6,420.6h3.2M748.4,420.6h-3.2M473.6,396.37h3.2M748.4,396.37h-3.2M473.6,372.14h3.2M748.4,372.14h-3.2M473.6,347.91h3.2M748.4,347.91h-3.2M473.6,323.68h3.2M748.4,323.68h-3.2M473.6,299.45h3.2M748.4,299.45h-3.2M473.6,275.22h3.2M748.4,275.22h-3.2M473.6,250.99h3.2M748.4,250.99h-3.2M473.6,415.75h1.8M748.4,415.75h-1.8M473.6,410.91h1.8M748.4,410.91h-1.8M473.6,406.06h1.8M748.4,406.06h-1.8M473.6,401.22h1.8M748.4,401.22h-1.8M473.6,391.52h1.8M748.4,391.52h-1.8M473.6,386.68h1.8M748.4,386.68h-1.8M473.6,381.83h1.8M748.4,381.83h-1.8M473.6,376.99h1.8M748.4,376.99h-1.8M473.6,367.29h1.8M748.4,367.29h-1.8M473.6,362.45h1.8M748.4,362.45h-1.8M473.6,357.6h1.8M748.4,357.6h-1.8M473.6,352.76h1.8M748.4,352.76h-1.8M473.6,343.06h1.8M748.4,343.06h-1.8M473.6,338.22h1.8M748.4,338.22h-1.8M473.6,333.37h1.8M748.4,333.37h-1.8M473.6,328.53h1.8M748.4,328.53h-1.8M473.6,318.83h1.8M748.4,318.83h-1.8M473.6,313.99h1.8M748.4,313.99h-1.8M473.6,309.14h1.8M748.4,309.14h-1.8M473.6,304.3h1.8M748.4,304.3h-1.8M473.6,294.6h1.8M748.4,294.6h-1.8M473.6,289.76h1.8M748.4,289.76h-1.8M473.6,284.91h1.8M748.4,284.91h-1.8M473.6,280.07h1.8M748.4,280.07h-1.8M473.6,270.37h1.8M748.4,270.37h-1.8M473.6,265.53h1.8M748.4,265.53h-1.8M473.6,260.68h1.8M748.4,260.68h-1.8M473.6,255.84h1.8M748.4,255.84h-1.8" stroke="#000" stroke-width="1.15" fill="none"/>
<rect x="473.6" y="250.6" width="274.8" height="170" fill="none" stroke="#3a3a3a" stroke-width="1.3"/>
<text x="473.6" y="437.6" font-size="14.5" text-anchor="middle">0</text>
<text x="519.4" y="437.6" font-size="14.5" text-anchor="middle">1</text>
<text x="565.2" y="437.6" font-size="14.5" text-anchor="middle">2</text>
<text x="611" y="437.6" font-size="14.5" text-anchor="middle">3</text>
<text x="656.8" y="437.6" font-size="14.5" text-anchor="middle">4</text>
<text x="702.6" y="437.6" font-size="14.5" text-anchor="middle">5</text>
<text x="748.4" y="437.6" font-size="14.5" text-anchor="middle">6</text>
<text x="467.3" y="425.6" font-size="14.5" text-anchor="end">0.0</text>
<text x="467.3" y="401.37" font-size="14.5" text-anchor="end">0.1</text>
<text x="467.3" y="377.14" font-size="14.5" text-anchor="end">0.2</text>
<text x="467.3" y="352.91" font-size="14.5" text-anchor="end">0.3</text>
<text x="467.3" y="328.68" font-size="14.5" text-anchor="end">0.4</text>
<text x="467.3" y="304.45" font-size="14.5" text-anchor="end">0.5</text>
<text x="467.3" y="280.22" font-size="14.5" text-anchor="end">0.6</text>
<text x="467.3" y="255.99" font-size="14.5" text-anchor="end">0.7</text>
<text x="611" y="458" font-size="14.5" text-anchor="middle">Time (s)</text>
<text transform="translate(434.8,335.6) rotate(-90)" font-size="14.5" text-anchor="middle">Absolute flow <tspan font-style="italic">F</tspan> (s<tspan font-size="10" dy="-5">−2</tspan><tspan dy="5">)</tspan></text>
<path d="M570.6,147.93V275.22M583.6,121.66V275.22M613.5,95.39V275.22M619.4,69.12V275.22M623.6,42.85V275.22" stroke="#444" stroke-opacity="0.6" stroke-width="0.9" fill="none"/>
</g>
</svg></body></html>
